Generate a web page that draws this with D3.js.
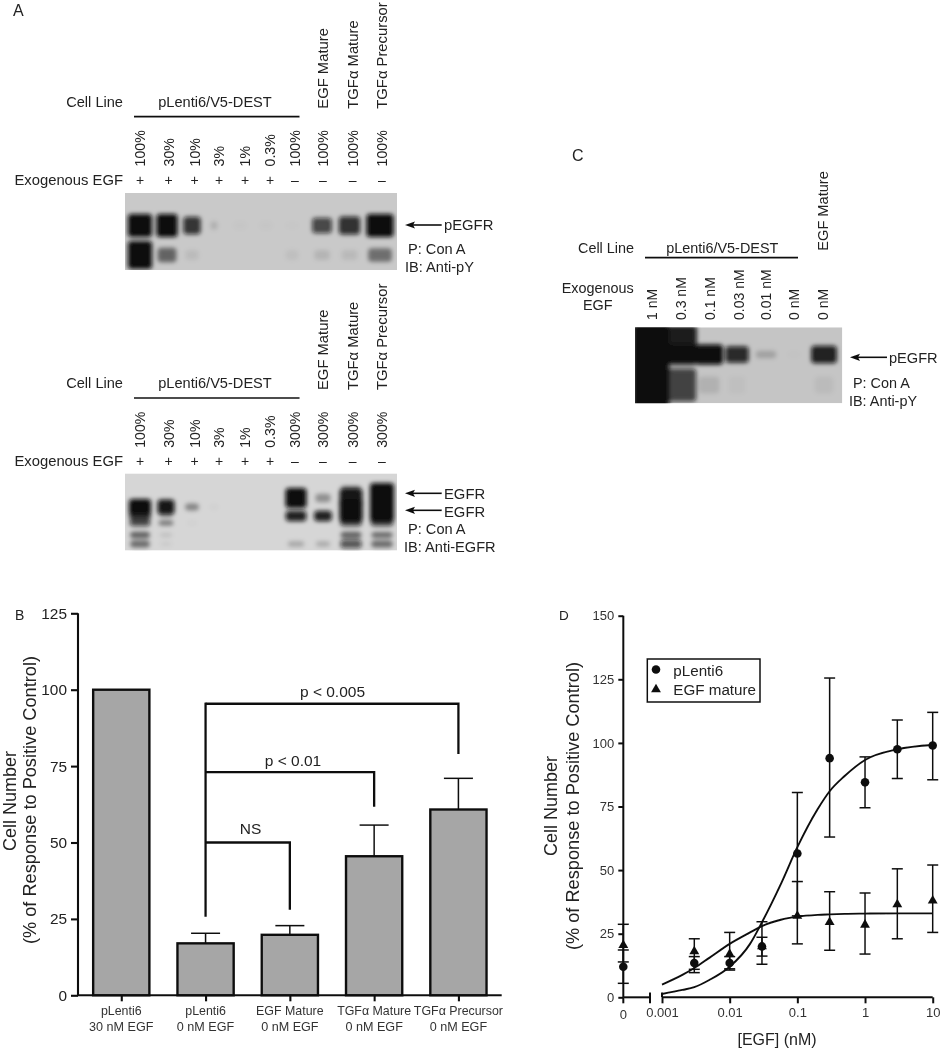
<!DOCTYPE html>
<html><head><meta charset="utf-8">
<script src="https://cdn.jsdelivr.net/npm/d3@7/dist/d3.min.js"></script>
<style>
html,body{margin:0;padding:0;background:#fff}
svg{display:block}
text{font-family:"Liberation Sans",Arial,sans-serif;fill:#222}
</style></head><body>
<svg id="c" width="942" height="1050"></svg>
<script>
// ---------- panel B data ----------
const barLine1 = ["pLenti6","pLenti6","EGF Mature","TGFα Mature","TGFα Precursor"];
const barLine2 = ["30 nM EGF","0 nM EGF","0 nM EGF","0 nM EGF","0 nM EGF"];
const barValues = [100,17,19.8,45.5,60.8];
const barErrTop = [null,20.3,22.8,55.7,71];
const barTicks = [0,25,50,75,100,125];
const bracketLabels = ["NS","p < 0.01","p < 0.005"];
const bracketTopValues = [50,73,95.4];
const bracketEndValues = [28,61.7,79];
const bracketLeftEnd = 25.7;
// ---------- panel D data ----------
const doseValues = [0,0.003,0.01,0.03,0.1,0.3,1,3,10];
const plentiMean = [12,13.5,13.5,20,56.5,94,84.5,97.5,99];
const plentiHi   = [18.6,16,16,23.6,80.5,125.5,94.5,109,112];
const plentiLo   = [5.5,11,11.2,16.2,32,63,74.5,86,85.5];
const matureMean = [20.5,18,17,20,32,29.5,28.5,36.5,38];
const matureHi   = [28.7,23,25.5,29.7,45.5,41.5,41,50.5,52];
const matureLo   = [13.9,9.7,10.7,13,21,18.5,17,23,25.5];
const curveDose  = [0.001,0.002,0.003,0.005,0.01,0.02,0.03,0.057,0.1,0.2,0.3,0.5,1,3,10];
const plentiCurve= [1.3,2.9,4,6.8,12,21,29.5,44.5,59,74,81,87,93.3,97.5,99.2];
const matureCurve= [5,8.8,11.5,15.5,21,25.5,28,30.5,31.7,32.4,32.6,32.8,32.9,33,33];
const doseTicks = [0.001,0.01,0.1,1,10];
const doseTickLabels = ["0.001","0.01","0.1","1","10"];
const respTicks = [0,25,50,75,100,125,150];
// ---------- blot text ----------
const egfPctA = ["100%","30%","10%","3%","1%","0.3%","100%","100%","100%","100%"];
const egfPctA2 = ["100%","30%","10%","3%","1%","0.3%","300%","300%","300%","300%"];
const egfSign = ["+","+","+","+","+","+","–","–","–","–"];
const topLabelsA = ["EGF Mature","TGFα Mature","TGFα Precursor"];
const doseLabelsC = ["1 nM","0.3 nM","0.1 nM","0.03 nM","0.01 nM","0 nM","0 nM"];
// ---------- blot band density (rows top to bottom, one value per lane) ----------
const blotA1 = [
 [1,1,.8,.13,.02,.02,.01,.7,.82,1],
 [1,.5,.07,0,0,0,.05,.1,.08,.45]
];
const blotA2 = [
 [0,0,0,0,0,0,0,0,.5,1],
 [0,0,0,0,0,0,1,.33,.95,1],
 [1,.95,.38,.03,0,0,0,0,1,1],
 [.8,.2,0,0,0,0,.9,.9,1,1],
 [.7,.45,.03,0,0,0,0,0,.7,.7],
 [.55,.1,0,0,0,0,0,0,.55,.5],
 [.5,.05,0,0,0,0,.22,.2,.65,.5]
];
const blotC = [
 [1,.92,0,0,0,0,0],
 [1,1,1,.85,.18,.01,.9],
 [1,.72,.1,.03,0,0,.05]
];

const svg = d3.select("#c");
const defs = svg.append("defs");
defs.append("filter").attr("id","band").attr("x","-20%").attr("y","-20%").attr("width","140%").attr("height","140%")
  .append("feGaussianBlur").attr("stdDeviation","2 2.2");
defs.append("filter").attr("id","soft").attr("filterUnits","userSpaceOnUse").attr("x",0).attr("y",0).attr("width",942).attr("height",1050)
  .append("feGaussianBlur").attr("stdDeviation","0.35");
const root = svg.append("g").attr("filter","url(#soft)");

function txt(x,y,s,size,anchor,g){
  return (g||root).append("text").attr("x",x).attr("y",y).attr("font-size",size)
    .attr("text-anchor",anchor||"start").text(s);
}
function vtxt(x,y,s,size,anchor){
  return root.append("text").attr("transform",`translate(${x},${y}) rotate(-90)`)
    .attr("font-size",size).attr("text-anchor",anchor||"start").text(s);
}
let gelId=0;
function gel(box,shade,rows,laneCenters,laneWidths,rowYs,rowRy){
  const id="gel"+(gelId++);
  defs.append("clipPath").attr("id",id).append("rect")
    .attr("x",box[0]).attr("y",box[1]).attr("width",box[2]-box[0]).attr("height",box[3]-box[1]);
  const g=root.append("g").attr("clip-path",`url(#${id})`);
  g.append("rect").attr("x",box[0]).attr("y",box[1]).attr("width",box[2]-box[0]).attr("height",box[3]-box[1]).attr("fill",shade);
  const bands=g.append("g").attr("filter","url(#band)");
  const lx=d3.scaleOrdinal().domain(d3.range(laneCenters.length)).range(laneCenters);
  const lw=d3.scaleOrdinal().domain(d3.range(laneCenters.length)).range(laneWidths);
  const ly=d3.scaleOrdinal().domain(d3.range(rowYs.length)).range(rowYs);
  const lr=d3.scaleOrdinal().domain(d3.range(rowYs.length)).range(rowRy);
  const hw=d=>lw(d.li)*(0.62+0.38*Math.sqrt(d.v));
  const hh=d=>lr(d.ri)*(0.35+0.65*d.v*d.v);
  const cells=rows.flatMap((r,ri)=>r.map((v,li)=>({v,li,ri}))).filter(d=>d.v>0);
  bands.selectAll("rect").data(cells).join("rect")
    .attr("x",d=>lx(d.li)-hw(d)).attr("y",d=>ly(d.ri)-hh(d))
    .attr("width",d=>2*hw(d)).attr("height",d=>2*hh(d)).attr("rx",4).attr("ry",3)
    .attr("fill","#0a0a0a").attr("fill-opacity",d=>d.v);
}
function arrow(x1,x2,y){
  root.append("line").attr("x1",x1+6).attr("x2",x2).attr("y1",y).attr("y2",y)
    .attr("stroke","#111").attr("stroke-width",1.6);
  root.append("path").attr("transform",`translate(${x1},${y})`).attr("d","M0,0L10,-3.6L8,0L10,3.6Z").attr("fill","#111");
}

// ---------- Panel A ----------
txt(13,16,"A",16);
const laneLabelX=[140,168.5,194.5,219,245,270,295,323,352.7,382];
function blotHeader(dy,pct){
  txt(123,106.7+dy,"Cell Line",14.6,"end");
  txt(215,106.7+dy,"pLenti6/V5-DEST",14.6,"middle");
  root.append("line").attr("x1",134).attr("x2",299.5).attr("y1",116.7+dy).attr("y2",116.7+dy).attr("stroke","#111").attr("stroke-width",1.7);
  topLabelsA.forEach((s,i)=>vtxt(laneLabelX[7+i]+5,108.7+dy,s,14.8));
  pct.forEach((s,i)=>vtxt(laneLabelX[i]+5,166.5+dy,s,14.2));
  txt(123,185+dy,"Exogenous EGF",14.8,"end");
  egfSign.forEach((s,i)=>txt(laneLabelX[i],185+dy,s,14,"middle"));
}
blotHeader(0,egfPctA);
blotHeader(281.3,egfPctA2);
gel([125,193,397,270],"#c9c9c9",blotA1,
  [140,167,192,214,240,266,292,322,349.5,380],[12,10.5,9,4.5,9,9,9,10.5,11,13.5],[225.5,255],[11.5,14]);
gel([125,473.7,397,550.3],"#d6d6d6",blotA2,
  [140,166,192,214,240,266,296,323,351,382],[11,8.5,8,6,6,6,10.5,9,11.5,12],[489,498,507,516,523,535,544],[6,10,8,6,5,6,7]);
arrow(405,441.7,225);
txt(444,230,"pEGFR",14.8);
txt(408,254,"P: Con A",14.6);
txt(405,272,"IB: Anti-pY",14.6);
arrow(405,441.7,493.3); arrow(405,441.7,510.3);
txt(444,499,"EGFR",14.8); txt(444,516.7,"EGFR",14.8);
txt(408,534,"P: Con A",14.6);
txt(404,551.7,"IB: Anti-EGFR",14.6);

// ---------- Panel C ----------
txt(572,161,"C",16);
const laneC=[651.7,681,710,739.3,766,794.3,822.7];
txt(634,252.7,"Cell Line",14.4,"end");
txt(722.3,252.7,"pLenti6/V5-DEST",14.4,"middle");
root.append("line").attr("x1",645).attr("x2",798).attr("y1",257.7).attr("y2",257.7).attr("stroke","#111").attr("stroke-width",1.7);
vtxt(laneC[6]+5,250.7,"EGF Mature",14.6);
txt(597.7,293,"Exogenous",14.4,"middle");
txt(597.7,310,"EGF",14.4,"middle");
doseLabelsC.forEach((s,i)=>vtxt(laneC[i]+5,320,s,14));
gel([635,327.3,842.3,403.3],"#c5c5c5",blotC,
  [651,681,709,737,766,794,824],[18,16,14,12,13,10,13],[342,354.5,385],[18,10,24]);
arrow(850,887,357.3);
txt(889,362.7,"pEGFR",14.6);
txt(853,387.7,"P: Con A",14.4);
txt(849,405.7,"IB: Anti-pY",14.4);

// ---------- Panel B ----------
txt(15,620,"B",14);
const yB=d3.scaleLinear().domain([0,125]).range([995.3,613.3]);
const xB=d3.scaleBand().domain(d3.range(barValues.length)).range([78,501.7]).paddingInner(0.333).paddingOuter(0.18);
const xc=i=>xB(i)+xB.bandwidth()/2;
const gB=root.append("g");
gB.selectAll("g.err").data(barValues.map((v,i)=>({v,i,t:barErrTop[i]})).filter(d=>d.t!=null)).join(e=>{
  const g=e.append("g").attr("class","err");
  g.append("line").attr("x1",d=>xc(d.i)).attr("x2",d=>xc(d.i)).attr("y1",d=>yB(d.v)).attr("y2",d=>yB(d.t)).attr("stroke","#111").attr("stroke-width",1.5);
  g.append("line").attr("x1",d=>xc(d.i)-14.5).attr("x2",d=>xc(d.i)+14.5).attr("y1",d=>yB(d.t)).attr("y2",d=>yB(d.t)).attr("stroke","#111").attr("stroke-width",1.5);
  return g;
});
gB.selectAll("rect").data(barValues).join("rect")
  .attr("x",(d,i)=>xB(i)).attr("width",xB.bandwidth()).attr("y",d=>yB(d)).attr("height",d=>yB(0)-yB(d))
  .attr("fill","#a6a6a6").attr("stroke","#111").attr("stroke-width",2.4);
// brackets
const bracketTargets=[2,3,4];
bracketTopValues.forEach((t,k)=>{
  const i=bracketTargets[k];
  gB.append("path").attr("fill","none").attr("stroke","#111").attr("stroke-width",2.3)
    .attr("d",d3.line()([[xc(1),yB(t)],[xc(i),yB(t)],[xc(i),yB(bracketEndValues[k])]]));
});
gB.append("line").attr("x1",xc(1)).attr("x2",xc(1)).attr("y1",yB(d3.max(bracketTopValues))-1.1).attr("y2",yB(bracketLeftEnd)).attr("stroke","#111").attr("stroke-width",2.3);
txt(250.5,834,bracketLabels[0],15.5,"middle");
txt(293,766,bracketLabels[1],15.5,"middle");
txt(332.5,697,bracketLabels[2],15.5,"middle");
const axYB=root.append("g").attr("transform","translate(78,0)").call(d3.axisLeft(yB).tickValues(barTicks).tickSize(7).tickPadding(4));
const axXB=root.append("g").attr("transform","translate(0,995.3)").call(d3.axisBottom(d3.scaleLinear().domain([78,501.7]).range([78,501.7])).tickValues(barValues.map((v,i)=>xc(i))).tickSize(6).tickFormat(""));
[axYB,axXB].forEach(a=>{a.selectAll("path,line").attr("stroke","#111").attr("stroke-width",2.1);a.selectAll("text").attr("font-size",15.4).style("fill","#222");a.attr("font-family",null);});
axXB.select("path").attr("d","M78,0H501.7");
axYB.select("path").attr("d","M0,995.3V613.3");
barLine1.forEach((s,i)=>{
  txt(xc(i),1015,s,12.4,"middle").style("fill","#333");
  txt(xc(i),1031,barLine2[i],12.6,"middle").style("fill","#333");
});
vtxt(15.5,801,"Cell Number",18,"middle");
vtxt(35.5,800,"(% of Response to Positive Control)",18.2,"middle");

// ---------- Panel D ----------
txt(559,620,"D",13.5);
const yD=d3.scaleLinear().domain([0,150]).range([997.3,615.7]);
const xLog=d3.scaleLog().domain([0.001,10]).range([662,932.7]);
const xZero=623.3;
const xD=d=>d===0?xZero:xLog(d);
const axYD=root.append("g").attr("transform",`translate(${xZero},0)`).call(d3.axisLeft(yD).tickValues(respTicks).tickSize(5).tickPadding(4));
axYD.selectAll("path,line").attr("stroke","#111").attr("stroke-width",2);
axYD.selectAll("text").attr("font-size",13).style("fill","#333");
axYD.attr("font-family",null);
axYD.select("path").attr("d","M0,997.3V615.7");
const axXD=root.append("g").attr("transform","translate(0,997.3)").call(d3.axisBottom(xLog).tickValues(doseTicks).tickSize(6).tickPadding(4).tickFormat((d,i)=>doseTickLabels[i]));
axXD.selectAll("path,line").attr("stroke","#111").attr("stroke-width",2);
axXD.selectAll("text").attr("font-size",13).style("fill","#333");
axXD.attr("font-family",null);
axXD.select("path").attr("d","M662,0H932.7");
const brk=root.append("g").attr("stroke","#111").attr("stroke-width",2);
brk.append("line").attr("x1",xZero).attr("x2",650).attr("y1",997.3).attr("y2",997.3);
brk.append("line").attr("x1",xZero).attr("x2",xZero).attr("y1",997.3).attr("y2",1003.3);
brk.append("line").attr("x1",650).attr("x2",650).attr("y1",992.5).attr("y2",1003.3);
brk.append("line").attr("x1",662).attr("x2",662).attr("y1",992.5).attr("y2",997.3);
txt(xZero,1019,"0",13,"middle").style("fill","#333");
const curve=d3.line().x(d=>xLog(d[0])).y(d=>yD(d[1])).curve(d3.curveMonotoneX);
[plentiCurve,matureCurve].forEach(c=>{
  root.append("path").attr("fill","none").attr("stroke","#111").attr("stroke-width",1.9)
    .attr("d",curve(curveDose.map((d,i)=>[d,c[i]])));
});
function series(mean,hi,lo,sym,size){
  const pts=doseValues.map((d,i)=>({d,m:mean[i],h:hi[i],l:lo[i]}));
  const g=root.append("g");
  const e=g.selectAll("g").data(pts).join("g").attr("stroke","#111").attr("stroke-width",1.5);
  e.append("line").attr("x1",p=>xD(p.d)).attr("x2",p=>xD(p.d)).attr("y1",p=>yD(p.h)).attr("y2",p=>yD(p.l));
  e.append("line").attr("x1",p=>xD(p.d)-5.5).attr("x2",p=>xD(p.d)+5.5).attr("y1",p=>yD(p.h)).attr("y2",p=>yD(p.h));
  e.append("line").attr("x1",p=>xD(p.d)-5.5).attr("x2",p=>xD(p.d)+5.5).attr("y1",p=>yD(p.l)).attr("y2",p=>yD(p.l));
  g.selectAll("path").data(pts).join("path").attr("fill","#111")
    .attr("transform",p=>`translate(${xD(p.d)},${yD(p.m)})`)
    .attr("d",d3.symbol().type(sym).size(size)());
}
series(matureMean,matureHi,matureLo,d3.symbolTriangle,42);
series(plentiMean,plentiHi,plentiLo,d3.symbolCircle,58);
// legend
root.append("rect").attr("x",647.3).attr("y",659).attr("width",112.7).attr("height",43).attr("fill","#fff").attr("stroke","#111").attr("stroke-width",1.5);
root.append("path").attr("transform","translate(656,669.5)").attr("d",d3.symbol().type(d3.symbolCircle).size(58)()).attr("fill","#111");
root.append("path").attr("transform","translate(656,689.5)").attr("d",d3.symbol().type(d3.symbolTriangle).size(42)()).attr("fill","#111");
txt(673.3,675.5,"pLenti6",15.2);
txt(673.3,695,"EGF mature",15.2);
vtxt(557,806,"Cell Number",18,"middle");
vtxt(578.5,806,"(% of Response to Positive Control)",18.2,"middle");
txt(777,1045,"[EGF] (nM)",16,"middle");
</script>
</body></html>
